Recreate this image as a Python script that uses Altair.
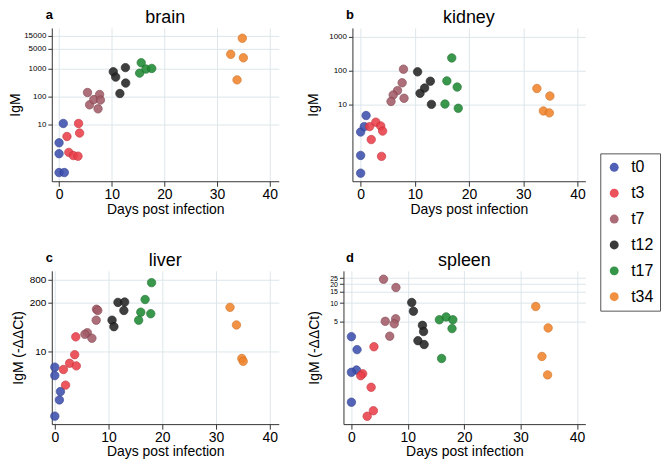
import altair as alt
import pandas as pd

groups = ["t0", "t3", "t7", "t12", "t17", "t34"]
fill_colors = ["#3d4fae", "#ea3f4a", "#a25c68", "#252525", "#1f8a34", "#f0842c"]
stroke_colors = ["#2a3a8a", "#c42a34", "#7e4049", "#111111", "#146a25", "#cf6a18"]

# brain
brain_days = {"t0": [0, 0, 0, 1.0, 0.8], "t3": [1.5, 3.7, 3.9, 1.85, 2.7, 3.6],
              "t7": [5.4, 5.8, 6.6, 7.4, 7.7, 7.85], "t12": [10.3, 10.75, 12.6, 12.65, 11.55],
              "t17": [15.6, 15.3, 16.5, 17.6], "t34": [34.8, 32.6, 35.0, 33.8]}
brain_vals = {"t0": [2.2, 0.9, 0.19, 0.19, 10.8], "t3": [3.7, 10.8, 4.9, 1.0, 0.77, 0.73],
              "t7": [138, 50, 77, 36, 117, 74], "t12": [760, 490, 1070, 300, 127],
              "t17": [1600, 680, 950, 1000], "t34": [12000, 3200, 2400, 390]}
# kidney
kidney_days = {"t0": [0, 0, 0, 1.0, 0.67], "t3": [1.65, 2.8, 3.7, 4.05, 1.95, 3.85],
               "t7": [7.9, 7.65, 6.8, 6.0, 5.6, 8.0], "t12": [10.5, 10.95, 11.8, 12.85, 13.05],
               "t17": [16.8, 15.9, 17.8, 15.55, 18.0], "t34": [32.5, 34.9, 33.7, 34.8]}
kidney_vals = {"t0": [1.6, 0.33, 0.10, 4.85, 2.3], "t3": [2.3, 3.1, 2.4, 1.7, 0.96, 0.31],
               "t7": [110, 44, 26, 19.4, 12.5, 15.5], "t12": [92, 21.6, 31, 49, 10.3],
               "t17": [235, 50, 33, 10.5, 7.9], "t34": [30, 18, 6.6, 5.8]}
# liver
liver_days = {"t0": [0, 0, 1.05, 0.85, 0], "t3": [3.9, 3.7, 2.75, 1.6, 4.0, 2.0],
              "t7": [7.75, 8.0, 7.7, 6.05, 5.6, 6.9], "t12": [11.75, 13.0, 12.85, 10.65, 11.0],
              "t17": [18.0, 16.8, 16.0, 17.85, 15.6], "t34": [32.6, 33.8, 34.8, 35.05]}
liver_vals = {"t0": [3.7, 2.2, 0.82, 0.49, 0.18], "t3": [24, 8.0, 4.7, 3.2, 4.0, 1.22],
              "t7": [132, 122, 67, 31, 28, 22], "t12": [201, 205, 122, 67, 45],
              "t17": [680, 240, 110, 100, 67], "t34": [148, 50, 6.3, 5.3]}
# spleen
spleen_days = {"t0": [0, 1.0, 0.9, 0, 0], "t3": [4.0, 2.0, 1.65, 3.5, 3.9, 2.8],
               "t7": [5.7, 7.9, 7.85, 7.6, 6.0, 6.8], "t12": [10.7, 11.0, 12.6, 12.8, 11.8, 12.9],
               "t17": [15.6, 16.8, 18.0, 17.85, 16.0], "t34": [32.7, 34.9, 33.8, 34.8]}
spleen_vals = {"t0": [2.9, 1.8, 0.85, 0.78, 0.26], "t3": [2.0, 0.74, 0.69, 0.45, 0.19, 0.155],
               "t7": [24, 17.7, 5.6, 4.65, 5.1, 2.95], "t12": [10.2, 7.4, 4.4, 3.5, 2.5, 2.17],
               "t17": [5.4, 6.0, 5.4, 3.9, 1.3], "t34": [8.8, 4.0, 1.4, 0.71]}

x_ticks = [0, 10, 20, 30, 40]
FONT = "Liberation Sans"
H = 154


def frame(days, vals):
    rows = []
    for g in groups:
        for d, v in zip(days[g], vals[g]):
            rows.append({"day": d, "value": v, "group": g})
    return pd.DataFrame(rows)


def panel(letter, name, days, vals, ytitle, yticks, ydomain, xdomain, width,
          ylabel_size, letter_dx, title_pad):
    df = frame(days, vals)
    pts = alt.Chart(df).mark_circle(size=72, opacity=0.88, strokeWidth=0.7).encode(
        x=alt.X("day:Q", scale=alt.Scale(domain=xdomain, nice=False, zero=False),
                axis=alt.Axis(values=x_ticks, title="Days post infection", labelFontSize=14,
                              titleFontSize=14, tickSize=5, labelPadding=1, titlePadding=1,
                              format="d")),
        y=alt.Y("value:Q", scale=alt.Scale(type="log", domain=ydomain, nice=False, zero=False),
                axis=alt.Axis(values=yticks, title=ytitle, labelFontSize=ylabel_size,
                              titleFontSize=14, tickSize=4, labelPadding=2,
                              labelOverlap=False, titlePadding=title_pad, format="d")),
        color=alt.Color("group:N", scale=alt.Scale(domain=groups, range=fill_colors),
                        legend=alt.Legend(title=None)),
        stroke=alt.Stroke("group:N", scale=alt.Scale(domain=groups, range=stroke_colors),
                          legend=None),
        order=alt.Order("idx:Q"),
    ).transform_calculate(idx="indexof(%s, datum.group)" % str(groups))
    lab = alt.Chart(pd.DataFrame({"l": [letter]})).mark_text(
        font=FONT, fontWeight="bold", fontSize=13, align="center", baseline="top"
    ).encode(text="l:N", x=alt.value(letter_dx), y=alt.value(-19))
    ttl = alt.Chart(pd.DataFrame({"t": [name]})).mark_text(
        font=FONT, fontSize=18, align="center", baseline="top", color="black"
    ).encode(text="t:N", x=alt.value(width / 2), y=alt.value(-19))
    return alt.layer(pts, lab, ttl).properties(width=width, height=H)


a = panel("a", "brain", brain_days, brain_vals, "IgM", [10, 100, 1000, 5000, 15000],
          [0.093, 28000], [-1.38, 41.72], 228, 8, -2.5, 1)
b = panel("b", "kidney", kidney_days, kidney_vals, "IgM", [10, 100, 1000],
          [0.058, 1770], [-1.52, 41.44], 234, 8, -2.5, 8)
c = panel("c", "liver", liver_days, liver_vals, "IgM (-ΔΔCt)", [10, 200, 800],
          [0.11, 1410], [-0.56, 41.67], 228, 10, -2.5, 4)
d = panel("d", "spleen", spleen_days, spleen_vals, "IgM (-ΔΔCt)", [5, 10, 15, 20, 25],
          [0.116, 32.7], [-1.41, 41.5], 243, 7, 6.5, 8)

row1 = alt.hconcat(a, b, spacing=74, bounds="flush")
row2 = alt.hconcat(c, d, spacing=65, bounds="flush")

chart = alt.vconcat(row1, row2, spacing=244, bounds="flush").properties(
    padding={"left": 0, "top": 0, "right": 0, "bottom": 0}
).configure_view(stroke=None).configure_axis(
    domainColor="#333333", tickColor="#333333", gridColor="#dde6ea", labelColor="black",
    titleColor="black", labelFont=FONT, titleFont=FONT, titleFontWeight="normal",
).configure_legend(
    orient="none", legendX=551, legendY=126, strokeColor="#555555", padding=6,
    labelFont=FONT, labelFontSize=16, symbolSize=80, symbolType="circle",
    rowPadding=10, labelOffset=9, symbolStrokeWidth=0, symbolOpacity=0.9,
    fillColor="white",
)

chart.save("out.html", embed_options={"renderer": "svg", "actions": False})
